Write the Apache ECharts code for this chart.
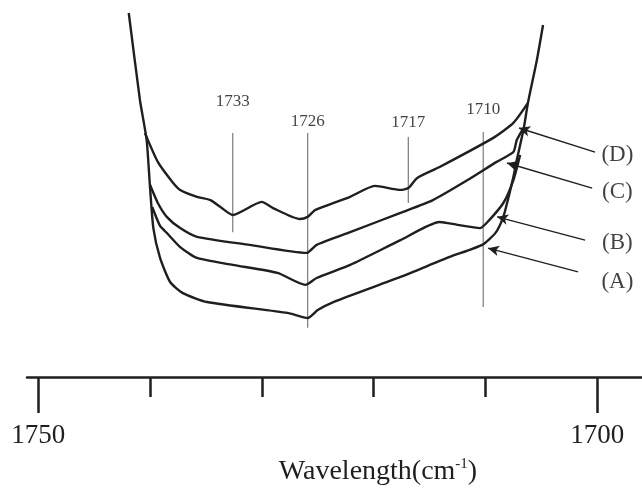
<!DOCTYPE html>
<html><head><meta charset="utf-8">
<script src="https://cdn.jsdelivr.net/npm/echarts@6/dist/echarts.min.js"></script>
<style>html,body{margin:0;padding:0;background:#fff;overflow:hidden}#c{width:642px;height:492px}</style>
</head><body><div id="c"></div>
<script>
// ---- data (x = wavenumber cm^-1, y = relative absorbance, arbitrary units) ----
const curveA = [[1741.9,100],[1740.9,76.1],[1740.3,65.1],[1740.0,52.2],[1739.7,40.9],[1739.1,32.7],[1738.2,26.1],[1737.1,23.1],[1734.9,20.6],[1727.7,17.6],[1725.9,16.2],[1725.0,18.4],[1723.6,20.6],[1717.6,27.5],[1713.2,33.0],[1710.3,36.3],[1709.1,39.6],[1708.4,44.0],[1708.0,48.6],[1707.5,55.0],[1707.2,59.6],[1706.6,67.9],[1706.2,75.3],[1705.4,87.1],[1704.85,96.7]];
const curveB = [[1739.8,46.7],[1739.1,41.5],[1738.5,39.6],[1737.3,35.7],[1735.8,32.7],[1732.6,30.8],[1728.6,28.6],[1726.1,25.3],[1725.1,27.2],[1722.1,30.8],[1717.6,37.6],[1714.1,42.6],[1712.5,41.8],[1710.5,40.9],[1709.9,42.3],[1708.4,47.8],[1707.5,54.1],[1706.9,61.0]];
const curveC = [[1740.0,52.8],[1739.3,47.8],[1738.5,44.0],[1737.3,40.9],[1735.8,38.5],[1731.1,36.3],[1726.0,34.1],[1725.1,36.3],[1722.1,39.8],[1717.6,45.1],[1714.7,48.6],[1711.6,54.1],[1709.0,59.1],[1707.5,61.8],[1707.2,65.1],[1706.6,68.4]];
const curveD = [[1740.45,67.0],[1739.3,59.1],[1738.0,53.6],[1737.3,51.4],[1735.8,49.5],[1734.6,48.6],[1733.7,46.7],[1732.6,44.5],[1730.0,48.1],[1729.0,46.4],[1726.6,43.4],[1725.9,44.0],[1725.2,45.9],[1722.1,49.5],[1719.9,52.5],[1717.6,51.4],[1716.9,51.9],[1716.1,54.7],[1714.1,57.7],[1709.3,65.7],[1707.5,69.8],[1706.2,75.3]];

const markerLabels = ['1733','1726','1717','1710'];
const markerWn = [1732.6, 1725.9, 1716.9, 1710.2];
const markerTop = [67.0, 67.0, 65.9, 67.3];
const markerBottom = [39.8, 13.5, 47.8, 19.2];
const markerLabelY = [75.6, 70.1, 69.8, 73.6];

const curveNames = ['(D)','(C)','(B)','(A)'];
const arrowHead = [[1707.0,68.4],[1708.07,58.8],[1708.96,44.0],[1709.77,35.4]];
const arrowTail = [[1700.2,61.8],[1700.46,51.9],[1701.09,37.6],[1701.72,28.9]];
const curveNameX = 1698.2;
const curveNameY = [61.0, 50.8, 36.8, 26.1];

const majorTicks = [1700, 1750];
const minorTicks = [1710, 1720, 1730, 1740];
const xTitle = 'Wavelength(cm';

// ---- chart ----
const INK = '#1f1f1f';
const SERIF = '"Liberation Serif", "Times New Roman", serif';
const chart = echarts.init(document.getElementById('c'), null, {renderer: 'canvas'});

function curve(name, data) {
  return {type: 'line', name, data, symbol: 'none', smooth: 0.2, silent: true, z: 3,
    lineStyle: {color: INK, width: 2.4}};
}

const series = [curve('A', curveA), curve('B', curveB), curve('C', curveC), curve('D', curveD)];

markerWn.forEach((wn, i) => {
  series.push({type: 'line', symbol: 'none', silent: true, z: 2,
    data: [[wn, markerTop[i]], [wn, markerBottom[i]]],
    lineStyle: {color: '#7a7a7a', width: 1.2}});
});

series.push({type: 'scatter', symbolSize: 0, silent: true, z: 4,
  data: markerWn.map((wn, i) => [wn, markerLabelY[i], markerLabels[i]]),
  label: {show: true, position: 'inside', formatter: p => p.value[2],
    fontFamily: SERIF, fontSize: 17, color: '#111'}});

series.push({type: 'line', data: [[1700, 50]], symbol: 'none', silent: true, lineStyle: {opacity: 0},
  markLine: {silent: true, symbol: ['arrow', 'none'], symbolSize: [8, 11], animation: false,
    label: {show: false},
    lineStyle: {color: INK, width: 1.4, type: 'solid'},
    emphasis: {disabled: true},
    data: arrowHead.map((h, i) => [{coord: h}, {coord: arrowTail[i]}])}});

series.push({type: 'scatter', symbolSize: 0, silent: true, z: 4,
  data: curveNames.map((n, i) => [curveNameX, curveNameY[i], n]),
  label: {show: true, position: 'inside', formatter: p => p.value[2],
    fontFamily: SERIF, fontSize: 23, color: '#111'}});

chart.setOption({
  animation: false,
  backgroundColor: '#fff',
  grid: {left: 27, right: 0, top: 13, bottom: 115, containLabel: false},
  xAxis: [{
    type: 'value', min: 1696, max: 1751, inverse: true, position: 'bottom',
    axisLine: {show: true, lineStyle: {color: INK, width: 2.5}},
    axisTick: {show: true, customValues: majorTicks, length: 36, lineStyle: {color: INK, width: 2.5}},
    axisLabel: {show: true, customValues: majorTicks, margin: 45, formatter: v => String(v),
      fontFamily: SERIF, fontSize: 27, color: INK},
    splitLine: {show: false},
    name: '{a|' + xTitle + '}{s|-1}{a|)}', nameLocation: 'middle', nameGap: 80,
    nameTextStyle: {padding: [0, 0, 0, 87],
      rich: {a: {fontFamily: SERIF, fontSize: 28, color: INK},
             s: {fontFamily: SERIF, fontSize: 15, color: INK, verticalAlign: 'top', padding: [0, 0, 14, 0]}}}
  }, {
    type: 'value', min: 1696, max: 1751, inverse: true, position: 'bottom',
    axisLine: {show: false},
    axisTick: {show: true, customValues: minorTicks, length: 20, lineStyle: {color: INK, width: 2.5}},
    axisLabel: {show: false},
    splitLine: {show: false}
  }],
  yAxis: {type: 'value', min: 0, max: 100, show: false},
  series
});
</script>
</body></html>
